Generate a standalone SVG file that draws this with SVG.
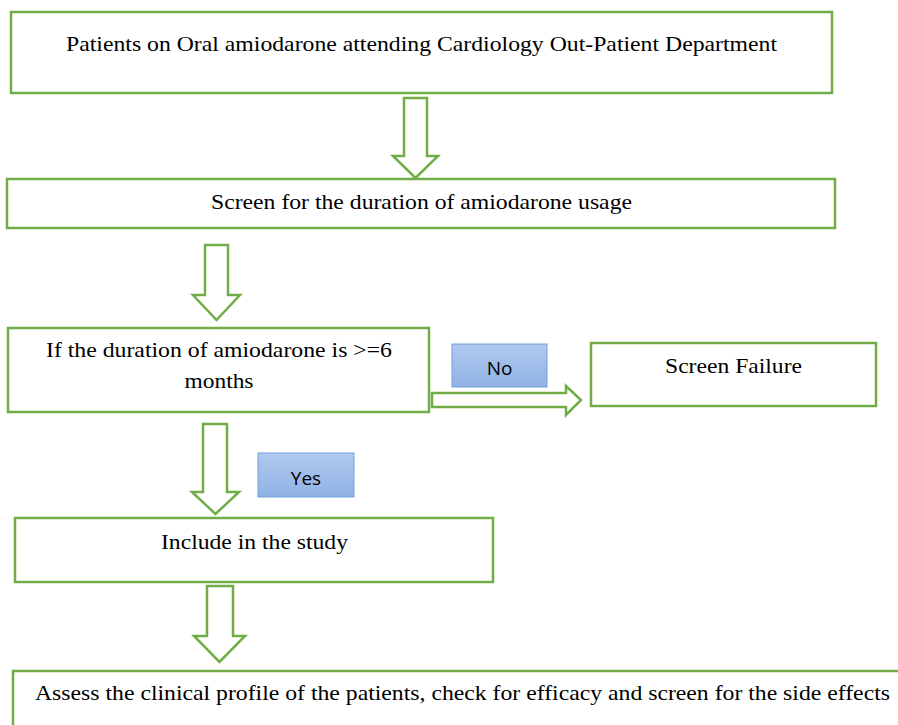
<svg xmlns="http://www.w3.org/2000/svg" width="898" height="725" viewBox="0 0 898 725">
<defs>
<linearGradient id="blue" x1="0" y1="0" x2="0" y2="1">
<stop offset="0" stop-color="#B1C9EE"/>
<stop offset="1" stop-color="#8FB2E6"/>
</linearGradient>
</defs>
<style>
.box{fill:#fff;stroke:#70AD47;stroke-width:2.5}
.arr{fill:#fff;stroke:#70AD47;stroke-width:2.5;stroke-linejoin:miter}
.lbl{fill:url(#blue);stroke:#6FA0DC;stroke-width:1}
.t{font-family:"Liberation Serif","Times New Roman",serif;font-size:22px;fill:#000;text-anchor:middle}
.s{font-family:"Open Sans","Liberation Sans",sans-serif;font-size:19px;fill:#000;text-anchor:middle}
</style>
<rect width="898" height="725" fill="#fff"/>
<g id="connectors">
<polygon class="arr" points="404,98 427,98 427,156 438,156 415.5,178 393,156 404,156"/>
<polygon class="arr" points="205,245 228,245 228,295 240,295 216.5,320 193,295 205,295"/>
<polygon class="arr" points="432,393 566,393 566,386 581,400 566,415 566,407 432,407"/>
<polygon class="arr" points="203,424 227,424 227,492 239,492 215.5,514 192,492 203,492"/>
<polygon class="arr" points="207,586 233,586 233,636 245,636 219.5,662 194,636 207,636"/>
</g>
<g id="n1"><rect class="box" x="11" y="12" width="821" height="81"/><text class="t" x="421.5" y="51" textLength="711" lengthAdjust="spacingAndGlyphs">Patients on Oral amiodarone attending Cardiology Out-Patient Department</text></g>
<g id="n2"><rect class="box" x="7" y="179" width="828" height="49"/><text class="t" x="421.5" y="209" textLength="421" lengthAdjust="spacingAndGlyphs">Screen for the duration of amiodarone usage</text></g>
<g id="n3"><rect class="box" x="8" y="328" width="421" height="84"/><text class="t" x="219" y="357" textLength="346" lengthAdjust="spacingAndGlyphs">If the duration of amiodarone is &gt;=6</text><text class="t" x="219" y="388" textLength="69" lengthAdjust="spacingAndGlyphs">months</text></g>
<g id="lblNo"><rect class="lbl" x="452" y="344" width="95" height="43"/><text class="s" x="499.5" y="375">No</text></g>
<g id="n4"><rect class="box" x="591" y="343" width="285" height="63"/><text class="t" x="733.5" y="373" textLength="137" lengthAdjust="spacingAndGlyphs">Screen Failure</text></g>
<g id="lblYes"><rect class="lbl" x="258" y="453" width="96" height="44"/><text class="s" x="306" y="485">Yes</text></g>
<g id="n5"><rect class="box" x="15" y="518" width="478" height="64"/><text class="t" x="254.5" y="549" textLength="187" lengthAdjust="spacingAndGlyphs">Include in the study</text></g>
<g id="n6"><rect class="box" x="13" y="671" width="900" height="70"/><text class="t" x="462.5" y="700" textLength="855" lengthAdjust="spacingAndGlyphs">Assess the clinical profile of the patients, check for efficacy and screen for the side effects</text></g>
</svg>
